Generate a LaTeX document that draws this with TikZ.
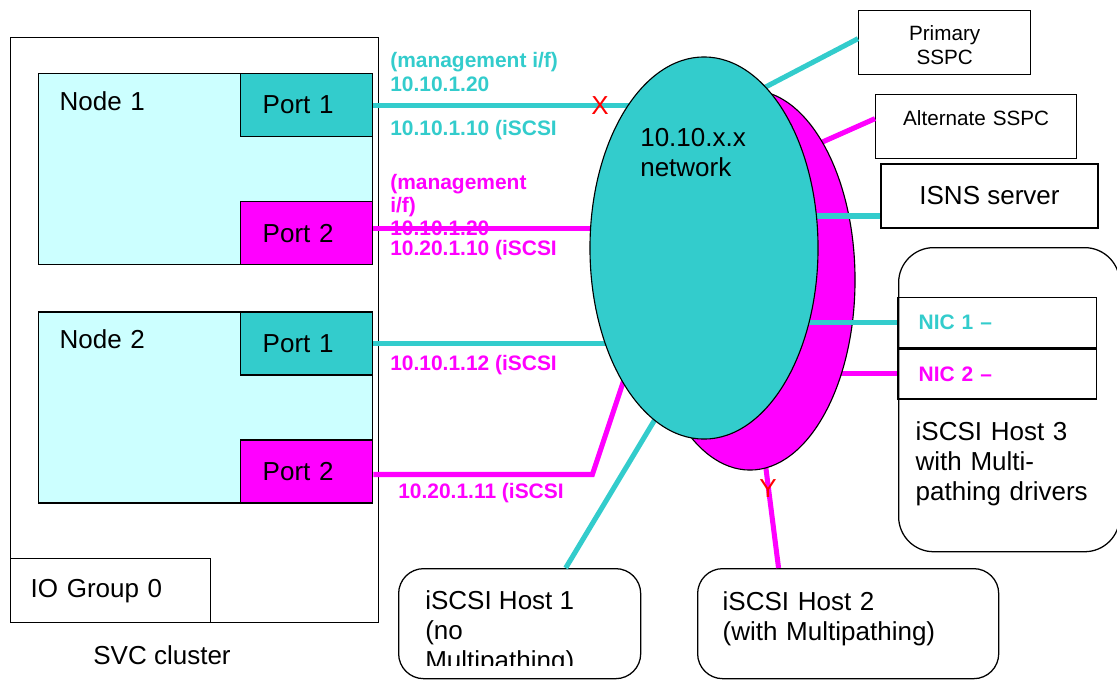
\documentclass[tikz,border=0pt]{standalone}
\usepackage{fontspec}
\setmainfont{Liberation Sans}
\usetikzlibrary{positioning, shapes.geometric}
\definecolor{portteal}{RGB}{51,204,204}
\definecolor{palecyan}{RGB}{204,255,255}
\definecolor{portmag}{RGB}{255,0,255}

\begin{document}
\begin{tikzpicture}[x=0.025cm, y=-0.025cm,
    big/.style={font=\fontsize{18.5}{21.5}\selectfont},
    small/.style={font=\fontsize{14.7}{17}\selectfont},
    box/.style={draw, line width=0.9pt},
    unitbox/.style={box, big, fill=palecyan, align=left, text width=7.3cm,
                    inner xsep=0.525cm, inner ysep=0pt,
                    text height=0.9125cm, text depth=3.8625cm},
    portbox/.style={box, big, align=left, text width=2.2cm,
                    inner xsep=0.55cm, minimum height=1.575cm},
    nicbox/.style={box, align=left, text width=3.925cm, inner xsep=0.525cm,
                   minimum height=1.25cm,
                   font=\fontsize{14.9}{16.7}\selectfont\bfseries},
    hostbox/.style={box, big, rounded corners=0.625cm},
    tealwire/.style={line width=3.6pt, draw=portteal},
    magwire/.style={line width=3.6pt, draw=portmag},
    iplabel/.style={font=\fontsize{14.9}{16.7}\selectfont\bfseries,
                    align=left, anchor=west, inner sep=0pt},
    cutmark/.style={big, text=red, inner sep=0pt},
    cloud/.style={ellipse, draw, line width=0.8pt, inner sep=0pt}]
  \useasboundingbox (0,0) rectangle (1117,679);

  \node[box, minimum width=9.2cm, minimum height=14.625cm, anchor=north west] (svc) at (10,37) {};
  \node[unitbox, anchor=north west] (node1) at (38,73) {Node 1};
  \node[portbox, fill=portteal, anchor=north east] (n1p1) at (node1.north east) {Port 1};
  \node[portbox, fill=portmag, anchor=south east] (n1p2) at (node1.south east) {Port 2};
  \node[unitbox, below=1.15cm of node1] (node2) {Node 2};
  \node[portbox, fill=portteal, anchor=north east] (n2p1) at (node2.north east) {Port 1};
  \node[portbox, fill=portmag, anchor=south east] (n2p2) at (node2.south east) {Port 2};
  \node[box, big, anchor=south west, align=left, text width=4cm, inner xsep=0.5cm,
        minimum height=1.6cm] (iogrp) at (svc.south west) {IO Group 0};
  \node[big] (svclbl) at (162,655) {SVC cluster};

  \node[box, small, align=center, text width=4.3cm, inner xsep=0pt, inner ysep=0pt,
        text height=0.75cm, text depth=0.85cm, anchor=north west] (pssp) at (858,10) {Primary\\SSPC};
  \node[box, small, align=center, text width=5.025cm, inner xsep=0pt, inner ysep=0pt,
        text height=0.7625cm, text depth=0.8375cm, anchor=north west] (assp) at (875,94) {Alternate SSPC};
  \node[box, big, minimum width=5.425cm, minimum height=1.6cm] (isns) at (989.5,196) {ISNS server};
  \node[hostbox, rounded corners=0.875cm, anchor=north west, align=left, text width=4.675cm,
        inner xsep=0.425cm, inner ysep=0pt, text height=4.8125cm, text depth=2.7875cm]
        (host3) at (898,247) {iSCSI Host 3\\with Multi-\\pathing drivers};
  \node[nicbox, text=portteal, anchor=north west] (nic1) at (897,297) {NIC 1 --};
  \node[nicbox, text=portmag, below=0pt of nic1] (nic2) {NIC 2 --};

  \node[hostbox, anchor=north west, minimum width=6.05cm, minimum height=2.75cm] (host1) at (398,568) {};
  \begin{scope}
    \clip (398,568) rectangle (640,665);
    \node[big, align=left, anchor=north west, inner sep=0pt] (h1txt) at (425,590) {iSCSI Host 1\\(no\\Multipathing)};
  \end{scope}
  \node[hostbox, anchor=north west, align=left, text width=6.275cm, inner xsep=0.625cm,
        inner ysep=0pt, text height=1.0375cm, text depth=1.7125cm]
        (host2) at (697,568) {iSCSI Host 2\\(with Multipathing)};

  \coordinate (hubT) at (704,248);
  \coordinate (hubM) at (750,280);

  \draw[tealwire] (n1p1.east) -- (n1p1.east -| hubT);
  \draw[magwire] ([yshift=0.125cm]n1p2.east) -- ([yshift=0.125cm]n1p2.east -| hubT);
  \draw[tealwire] (n2p1.east) -- (n2p1.east -| hubT);
  \draw[magwire] ([yshift=-0.075cm]n2p2.east) -- ++(219,0) -- ++(48,-144);
  \draw[tealwire] ([xshift=1.15cm]host1.north) -- ++(110,-183);
  \draw[magwire] ([xshift=-1.74cm]host2.north) -- ++(-19,-150);
  \draw[magwire] ([yshift=0.2cm]assp.west) -- ++(-90,40);
  \draw[magwire] (nic2.west) -- (nic2.west -| hubM);

  \node[cloud, fill=portmag, minimum width=5.25cm, minimum height=9.5cm] (netM) at (hubM) {};

  \draw[tealwire] ([yshift=0.1cm]pssp.west) -- ++(-130,68);
  \draw[tealwire] ([yshift=-0.5cm]isns.west) -- ++(-130,0);
  \draw[tealwire] (nic1.west) -- (nic1.west -| hubT);

  \node[cloud, fill=portteal, minimum width=5.7cm, minimum height=9.55cm] (netT) at (hubT) {};
  \node[big, align=left, anchor=north west, inner sep=0pt] (netlbl) at (640,128) {10.10.x.x\\network};

  \node[iplabel, text=portteal] (ipa) at (390,72) {(management i/f)\\10.10.1.20};
  \node[iplabel, text=portteal] (ipb) at (390,130) {10.10.1.10 (iSCSI};
  \node[iplabel, text=portmag] (ipc) at (390,205) {(management\\i/f)\\10.10.1.20};
  \node[iplabel, text=portmag] (ipd) at (390,250) {10.20.1.10 (iSCSI};
  \node[iplabel, text=portmag] (ipe) at (390,365) {10.10.1.12 (iSCSI};
  \node[iplabel, text=portmag] (ipf) at (398,493) {10.20.1.11 (iSCSI};

  \node[cutmark] (cutx) at (600,106) {X};
  \node[cutmark] (cuty) at (768,489) {Y};
\end{tikzpicture}
\end{document}
